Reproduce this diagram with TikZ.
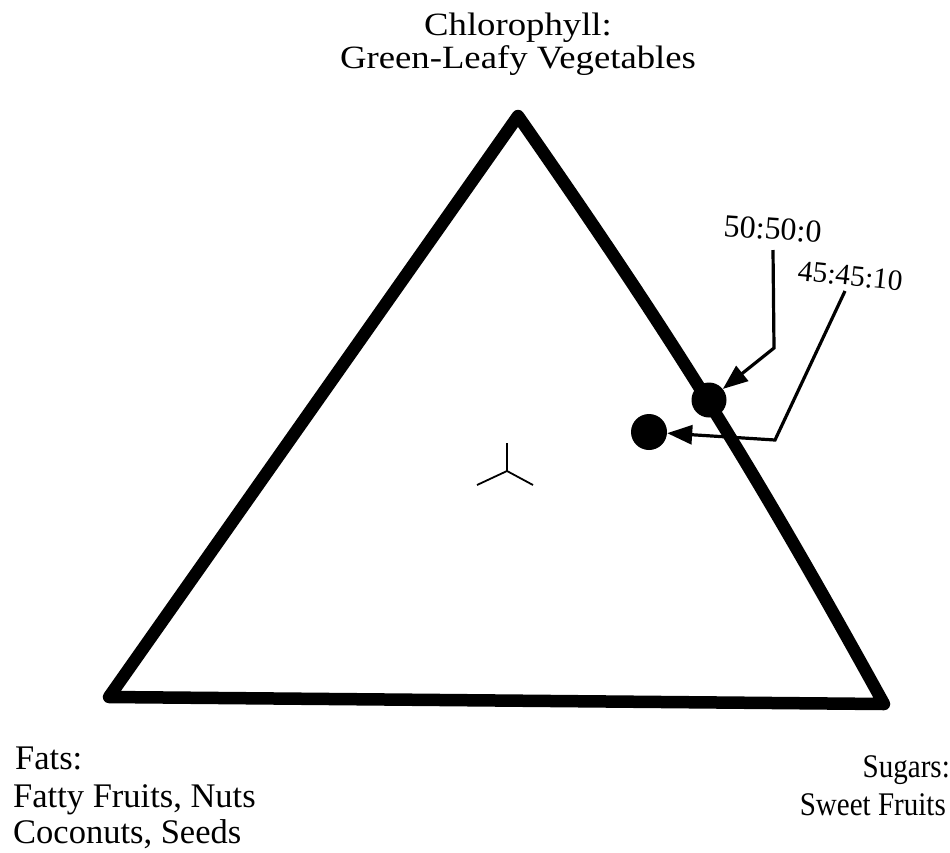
\documentclass[tikz,border=0pt]{standalone}
\usepackage{fontspec}
\setmainfont{Liberation Serif}
\usetikzlibrary{arrows.meta}
\begin{document}
\begin{tikzpicture}[x=1pt,y=-1pt,
  edge/.style={line width=12.5pt, line join=round, line cap=round},
  leader/.style={line width=3.2pt, line join=miter, -{Triangle[length=25pt,width=19pt]}},
  dot/.style={circle, fill=black, minimum size=35pt, inner sep=0pt},
  lbl/.style={inner sep=0pt, font=\fontsize{34.5}{38}\selectfont},
  toplbl/.style={inner sep=0pt, xscale=1.13, anchor=base, font=\fontsize{32.5}{36}\selectfont},
  sugarlbl/.style={inner sep=0pt, xscale=0.88, anchor=base east, font=\fontsize{33}{36}\selectfont},
  ratio/.style={inner sep=0pt, anchor=base west}]
\useasboundingbox (0,0) rectangle (950,852);
% triangle
\coordinate (T) at (518,116);
\coordinate (R) at (884,704);
\coordinate (L) at (109,697);
\draw[edge] (L) -- (T) to[bend left=3] (R) -- cycle;
% centre mark
\coordinate (C) at (507,471);
\coordinate (Cu) at (507,443);
\coordinate (Cl) at (477,485);
\coordinate (Cr) at (533,485);
\draw[line width=1.8pt] (C) -- (Cu) (C) -- (Cl) (C) -- (Cr);
% dots
\node[dot] (d1) at (709,400) {};
\node[dot, minimum size=36pt] (d2) at (649,432) {};
% ratio labels
\node[ratio, rotate=-4, font=\fontsize{32}{34}\selectfont] (r1) at (723,236) {50:50:0};
\node[ratio, rotate=-6, font=\fontsize{29.5}{32}\selectfont] (r2) at (797,280) {45:45:10};
% leaders
\coordinate (a1) at (773,250);
\coordinate (b1) at (774,348);
\coordinate (a2) at (845,291);
\coordinate (b2) at (775,440);
\draw[leader] (a1) -- (b1) -- (d1);
\draw[leader] (a2) -- (b2) -- (d2);
% vertex labels
\node[toplbl] (chl1) at (518,35) {Chlorophyll:};
\node[toplbl] (chl2) at (518,68) {Green-Leafy Vegetables};
\node[lbl, anchor=base west] (f1) at (15,769) {Fats:};
\node[lbl, anchor=base west] (f2) at (13,807) {Fatty Fruits, Nuts};
\node[lbl, anchor=base west] (f3) at (13,843) {Coconuts, Seeds};
\node[sugarlbl] (s1) at (950,777) {Sugars:};
\node[sugarlbl] (s2) at (946,815) {Sweet Fruits};
\end{tikzpicture}
\end{document}
